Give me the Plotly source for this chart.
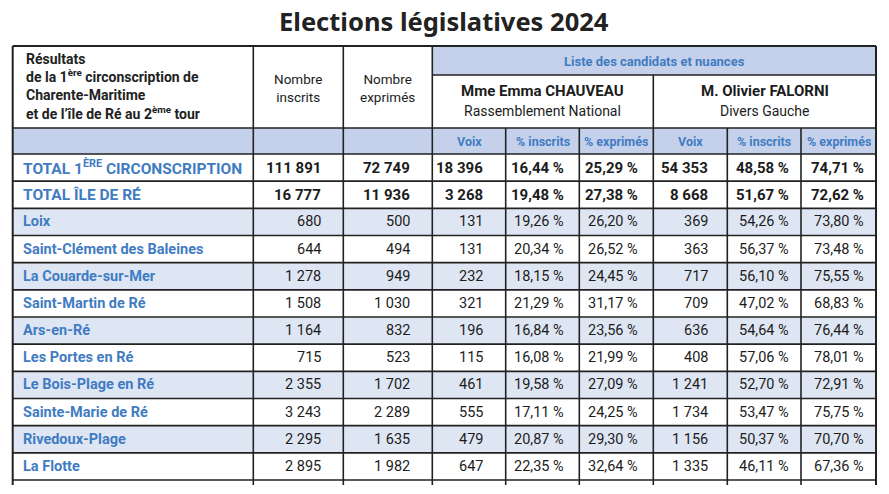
import plotly.graph_objects as go

# ---------------- DATA ----------------
title = "Elections législatives 2024"
communes = ["TOTAL 1<sup>ÈRE</sup> CIRCONSCRIPTION", "TOTAL ÎLE DE RÉ", "Loix",
            "Saint-Clément des Baleines", "La Couarde-sur-Mer", "Saint-Martin de Ré",
            "Ars-en-Ré", "Les Portes en Ré", "Le Bois-Plage en Ré", "Sainte-Marie de Ré",
            "Rivedoux-Plage", "La Flotte"]
inscrits = [111891, 16777, 680, 644, 1278, 1508, 1164, 715, 2355, 3243, 2295, 2895]
exprimes = [72749, 11936, 500, 494, 949, 1030, 832, 523, 1702, 2289, 1635, 1982]
chauveau_voix = [18396, 3268, 131, 131, 232, 321, 196, 115, 461, 555, 479, 647]
chauveau_pct_inscrits = [16.44, 19.48, 19.26, 20.34, 18.15, 21.29, 16.84, 16.08, 19.58, 17.11, 20.87, 22.35]
chauveau_pct_exprimes = [25.29, 27.38, 26.20, 26.52, 24.45, 31.17, 23.56, 21.99, 27.09, 24.25, 29.30, 32.64]
falorni_voix = [54353, 8668, 369, 363, 717, 709, 636, 408, 1241, 1734, 1156, 1335]
falorni_pct_inscrits = [48.58, 51.67, 54.26, 56.37, 56.10, 47.02, 54.64, 57.06, 52.70, 53.47, 50.37, 46.11]
falorni_pct_exprimes = [74.71, 72.62, 73.80, 73.48, 75.55, 68.83, 76.44, 78.01, 72.91, 75.75, 70.70, 67.36]

header_lines = ["Résultats", "de la 1<sup>ère</sup> circonscription de", "Charente-Maritime",
                "et de l’île de Ré au 2<sup>ème</sup> tour"]
col_titles = [["Nombre", "inscrits"], ["Nombre", "exprimés"]]
group_title = "Liste des candidats et nuances"
candidates = [("Mme Emma CHAUVEAU", "Rassemblement National"),
              ("M. Olivier FALORNI", "Divers Gauche")]
sub_titles = ["Voix", "% inscrits", "% exprimés"]
total_rows = 2

# ---------------- STYLE ----------------
W, H = 889, 494
OFF = 8  # page body margin
cols = [12.7, 253.3, 343.3, 432.3, 505.7, 579.3, 653.3, 727.3, 801, 876]
pads = [20, 20, 21, 13, 13, 17, 10, 10]
y_top, y_group, y_sub, y_body = 46, 75, 128, 154
row_h = (480 - 154) / 12
y_end = 485
HEAD_BLUE = "#c5d0ea"
SHADE = "#dfe6f3"
LABEL_BLUE = "#3f7cc2"
INK = "#1c1c1c"
LINE = "#222222"
NUM_FONT = "Roboto"
LAB_FONT = "Roboto"


def fmt_int(v):
    return f"{v:,}".replace(",", " ")


def fmt_pct(v):
    return f"{v:.2f}".replace(".", ",") + " %"


shapes = []
ann = []


def rect(x0, x1, y0, y1, color):
    shapes.append(dict(type="rect", xref="x", yref="y", x0=x0, x1=x1, y0=y0, y1=y1,
                       fillcolor=color, line=dict(width=0), layer="below"))


def line(x0, y0, x1, y1, w=1.6):
    shapes.append(dict(type="line", xref="x", yref="y", x0=x0, y0=y0, x1=x1, y1=y1,
                       line=dict(color=LINE, width=w)))


def text(x, y, s, size, color=INK, family=NUM_FONT, anchor="center", bold=False):
    if bold:
        s = f"<b>{s}</b>"
    ann.append(dict(x=x, y=y, xref="x", yref="y", text=s, showarrow=False,
                    xanchor=anchor, yanchor="middle", align=anchor if anchor != "center" else "center",
                    font=dict(size=size, color=color, family=family)))


# backgrounds
rect(cols[3], cols[-1], y_top, y_group, HEAD_BLUE)
rect(cols[0], cols[-1], y_sub, y_body, HEAD_BLUE)
for i in range(len(communes)):
    if i >= total_rows and (i - total_rows) % 2 == 0:
        rect(cols[0], cols[-1], y_body + i * row_h, y_body + (i + 1) * row_h, SHADE)

# horizontal lines
line(cols[0], y_top, cols[-1], y_top, 2)
line(cols[3], y_group, cols[-1], y_group)
line(cols[0], y_sub, cols[-1], y_sub)
for i in range(len(communes) + 1):
    line(cols[0], y_body + i * row_h, cols[-1], y_body + i * row_h)

# vertical lines
line(cols[0], y_top, cols[0], y_end, 2)
line(cols[-1], y_top, cols[-1], y_end, 2)
for c in (1, 2, 3):
    line(cols[c], y_top, cols[c], y_end)
line(cols[6], y_group, cols[6], y_end)
for c in (4, 5, 7, 8):
    line(cols[c], y_sub, cols[c], y_end)

# title
text(443.5, 21, title, 25.5, "#222222", "Noto Sans", bold=True)

# header text (one block, tight leading)
text(cols[0] + 11, 86, "<br>".join(header_lines), 14, "#222222", LAB_FONT, anchor="left", bold=True)
for k, (a, b) in enumerate(col_titles):
    cx = (cols[1 + k] + cols[2 + k]) / 2
    text(cx, 87.5, a + "<br>" + b, 13.5, INK, NUM_FONT)
text((cols[3] + cols[-1]) / 2, 61, group_title, 13, LABEL_BLUE, NUM_FONT, bold=True)
for k, (name, party) in enumerate(candidates):
    cx = (cols[3 + 3 * k] + cols[6 + 3 * k]) / 2
    text(cx, 91, name, 15, INK, NUM_FONT, bold=True)
    text(cx, 111, party, 14, INK, NUM_FONT)
    for j, s in enumerate(sub_titles):
        c = 3 + 3 * k + j
        text((cols[c] + cols[c + 1]) / 2, 141, s, 12.5, LABEL_BLUE, NUM_FONT, bold=True)

# body
columns = [inscrits, exprimes, chauveau_voix, chauveau_pct_inscrits, chauveau_pct_exprimes,
           falorni_voix, falorni_pct_inscrits, falorni_pct_exprimes]
formats = [fmt_int, fmt_int, fmt_int, fmt_pct, fmt_pct, fmt_int, fmt_pct, fmt_pct]
for i, name in enumerate(communes):
    yc = y_body + (i + 0.5) * row_h
    bold = i < total_rows
    text(cols[0] + 8, yc, name, 15.5 if bold else 14.5, LABEL_BLUE, LAB_FONT, anchor="left", bold=True)
    for j, (vals, f) in enumerate(zip(columns, formats)):
        text(cols[j + 2] - pads[j], yc, f(vals[i]), 15 if bold else 14.5, INK, NUM_FONT,
             anchor="right", bold=bold)

fig = go.Figure()
fig.update_layout(width=W - OFF, height=H - OFF, margin=dict(l=0, r=0, t=0, b=0),
                  paper_bgcolor="white", plot_bgcolor="white",
                  shapes=shapes, annotations=ann, showlegend=False)
fig.update_xaxes(range=[OFF, W], visible=False, fixedrange=True)
fig.update_yaxes(range=[H, OFF], visible=False, fixedrange=True)
fig.write_html("out.html")
